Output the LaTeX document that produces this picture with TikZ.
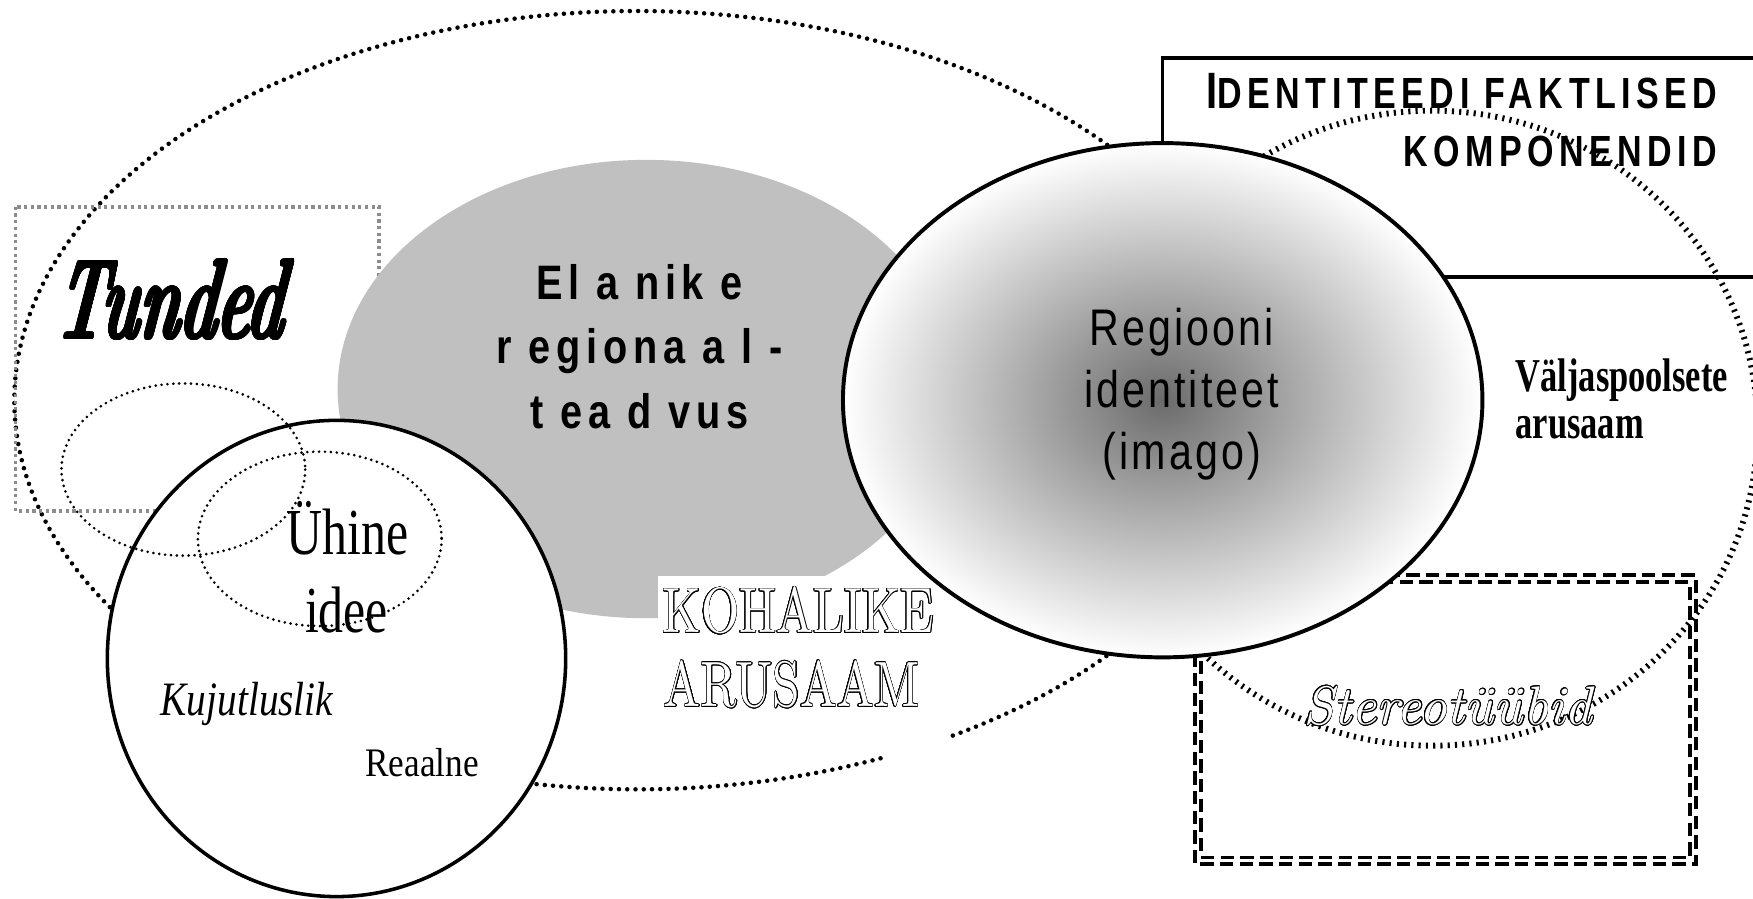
\documentclass[tikz,border=0pt]{standalone}
\usepackage{fontspec}
\usepackage{contour}
\usetikzlibrary{positioning}
\definecolor{Blob}{HTML}{C0C0C0}
\definecolor{DotGrey}{HTML}{8C8C8C}
\definecolor{Core}{gray}{0.42}
\newfontfamily\brushfont[FakeStretch=0.55,FakeSlant=0.12]{lmroman10-bolditalic.otf}
\newfontfamily\engravefont[FakeStretch=0.77]{lmroman10-regular.otf}
\newfontfamily\stereofont{lmroman10-italic.otf}
\newfontfamily\elafont[FakeStretch=0.82,LetterSpace=12]{Liberation Sans}
\newfontfamily\regfont[FakeStretch=0.8,LetterSpace=6]{Liberation Sans}
\newfontfamily\headfont[FakeStretch=0.78,LetterSpace=12.6]{Liberation Sans}
\newfontfamily\timesfont{Liberation Serif}
\newcommand{\fsz}[2]{\fontsize{#1}{#2}\selectfont}
\contournumber{24}

\begin{document}
\begin{tikzpicture}[x=0.01cm,y=-0.01cm,
    lbl/.style={inner sep=0pt},
    bigdots/.style={line width=1.15pt,dash pattern=on 0pt off 2.1pt,line cap=round},
    finedots/.style={line width=0.75pt,dash pattern=on 0pt off 1.5pt,line cap=round},
    ovaldots/.style={line width=1.5pt,dash pattern=on 0.55pt off 1.3pt},
    greydots/.style={DotGrey,line width=0.9pt,dash pattern=on 0.8pt off 0.9pt},
    dashbox/.style={line width=1pt,dash pattern=on 3.4pt off 1.6pt}]
  \useasboundingbox (0,0) rectangle (1568,804);
  \clip (0,0) rectangle (1568,804);
  \draw[bigdots] (787.6,678.3) arc[start angle=67,end angle=420,x radius=557,y radius=348];
  \draw[greydots] (14,185) rectangle (339,457);
  \fill[Blob] (578,348) ellipse [x radius=276,y radius=205];
  \draw[fill=white,line width=0.9pt] (301,589) ellipse [x radius=205,y radius=213];
  \draw[finedots] (164,420) ellipse [x radius=109,y radius=77];
  \draw[finedots] (286,482) ellipse [x radius=109,y radius=78];
  \fill[white] (589,515) rectangle (836,650);
  \draw[fill=white,line width=0.9pt] (1040,52) rectangle (1600,248);
  \draw[dashbox] (1069,514) rectangle (1517,773);
  \draw[dashbox] (1074,521) rectangle (1512,767);
  \node[lbl,anchor=base east] (fakt) at (1537,97) {\headfont\bfseries{\fsz{13}{13}I}\fsz{11.1}{13}DENTITEEDI FAKTLISED};
  \node[lbl,anchor=base east] (komp) at (1537,149) {\headfont\bfseries\fsz{11.1}{13}KOMPONENDID};
  \draw[ovaldots] (1281,383) ellipse [x radius=291,y radius=284];
  \shadedraw[inner color=Core,outer color=white,line width=1pt] (1040,358) ellipse [x radius=286,y radius=230];

  \node[lbl,anchor=base] (tunded) at (150,303) {\brushfont\fsz{29}{29}\contourlength{0.3pt}\contour{black}{Tunded}};
  \foreach \txt [count=\i] in {El a nik e,r egiona a l -,t ea d vus}
    \node[lbl,anchor=base] (ela\i) at (572,{210.5+57.5*\i}) {\elafont\bfseries\fsz{12.3}{15}\txt};
  \foreach \txt [count=\i] in {Regiooni,identiteet,(imago)}
    \node[lbl,anchor=base] (regi\i) at (1057,{253.5+55.5*\i}) {\regfont\fsz{13.1}{15}\txt};
  \node[lbl,anchor=base west] (valja) at (1355,350) {\timesfont\bfseries\addfontfeature{FakeStretch=0.73}\fsz{12}{13}Väljaspoolsete};
  \node[lbl,anchor=base west] (valjb) at (1355,392) {\timesfont\bfseries\addfontfeature{FakeStretch=0.73}\fsz{12}{13}arusaam};
  \node[lbl,anchor=base] (uhine) at (311,496) {\timesfont\addfontfeature{FakeStretch=0.76}\fsz{16.7}{19}Ühine};
  \node[lbl,anchor=base] (idee) at (310,566) {\timesfont\addfontfeature{FakeStretch=0.76}\fsz{16.7}{19}idee};
  \node[lbl,anchor=base west] (kuju) at (143,640) {\timesfont\itshape\addfontfeature{FakeStretch=0.82}\fsz{12.2}{14}Kujutluslik};
  \node[lbl,anchor=base west] (reaal) at (326,695) {\timesfont\addfontfeature{FakeStretch=0.87}\fsz{10.3}{12}Reaalne};
  \node[lbl,anchor=base west] (koha) at (592,566) {\engravefont\fsz{16.3}{18}\contourlength{0.15pt}\color{white}\contour{black}{KOHALIKE}};
  \node[lbl,anchor=base west] (arus) at (593,632) {\engravefont\fsz{16.3}{18}\contourlength{0.15pt}\color{white}\contour{black}{ARUSAAM}};
  \node[lbl,anchor=base] (stereo) at (1295,648) {\stereofont\fsz{13.8}{15}\contourlength{0.18pt}\color{white}\contour{black}{Stereotüübid}};
\end{tikzpicture}
\end{document}
